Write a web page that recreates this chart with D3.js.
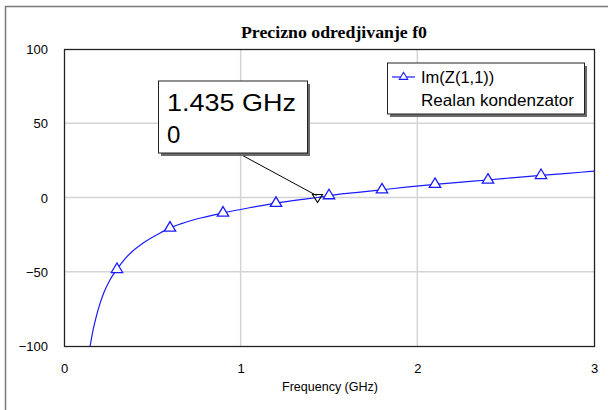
<!DOCTYPE html>
<html><head><meta charset="utf-8">
<script src="https://cdn.jsdelivr.net/npm/d3@7"></script>
<style>html,body{margin:0;padding:0;background:#fff;}svg{display:block;}</style>
</head><body>
<script>
const title = "Precizno odredjivanje f0";
const xLabel = "Frequency (GHz)";
const seriesName = "Im(Z(1,1))";
const seriesSub = "Realan kondenzator";
const xTicks = [0, 1, 2, 3];
const yTicks = [-100, -50, 0, 50, 100];
// curve samples (GHz, Ohm)
const curveFreq = [0.148, 0.165, 0.183, 0.205, 0.226, 0.26, 0.3, 0.34, 0.38, 0.45, 0.55, 0.6, 0.68, 0.75, 0.9, 1.05, 1.2, 1.35, 1.435, 1.5, 1.65, 1.8, 1.95, 2.1, 2.25, 2.4, 2.55, 2.7, 2.85, 3.0];
const curveVal  = [-100, -89, -80, -71, -64, -55.5, -48.4, -42, -37, -30.5, -23.5, -20.5, -17, -14.5, -10.4, -6.9, -3.8, -1.3, 0, 1.3, 3.3, 5.2, 7.1, 8.9, 10.4, 11.8, 13.4, 14.9, 16.3, 17.7];
// marker (triangle) points
const markFreq = [0.3, 0.6, 0.9, 1.2, 1.5, 1.8, 2.1, 2.4, 2.7];
const markVal  = [-48.4, -20.5, -10.4, -3.8, 1.3, 5.2, 8.9, 11.8, 14.9];
// readout marker
const m1Freq = 1.435, m1Val = 0;
const m1Lines = ["1.435 GHz", "0"];

const W = 613, H = 410;
const L = 64, R = 594, T = 49, B = 346;
const svg = d3.select("body").append("svg").attr("width", W).attr("height", H);

const x = d3.scaleLinear().domain([0, 3]).range([L, R]);
const y = d3.scaleLinear().domain([-100, 100]).range([B, T]);

// outer frame (top & left visible)
svg.append("path").attr("d", `M5.5,${H} L5.5,6.5 L608,6.5`).attr("fill", "none").attr("stroke", "#7a7a7a").attr("stroke-width", 1.5);

// title
svg.append("text").attr("x", (L + R) / 2 + 5).attr("y", 38).attr("text-anchor", "middle")
  .attr("font-family", "Liberation Serif, Times New Roman, serif").attr("font-weight", "bold")
  .attr("font-size", 16.5).attr("textLength", 186).attr("lengthAdjust", "spacingAndGlyphs").text(title);

// grid
const grid = svg.append("g").attr("stroke", "#d4d4d4").attr("stroke-width", 1.5);
xTicks.filter(d => d > 0 && d < 3).forEach(d => grid.append("line").attr("x1", x(d)).attr("x2", x(d)).attr("y1", T).attr("y2", B));
yTicks.filter(d => d > -100 && d < 100).forEach(d => grid.append("line").attr("x1", L).attr("x2", R).attr("y1", y(d)).attr("y2", y(d)));

// axes via d3 axis (labels only)
const ax = svg.append("g").attr("transform", `translate(0,${B + 15})`)
  .call(d3.axisBottom(x).tickValues(xTicks).tickFormat(d3.format("d")).tickSize(0));
ax.select(".domain").remove();
ax.selectAll("text").attr("font-family", "Liberation Sans, Arial, sans-serif").attr("font-size", 13).attr("fill", "#000");
const ay = svg.append("g").attr("transform", `translate(${L - 16},0)`)
  .call(d3.axisLeft(y).tickValues(yTicks).tickFormat(d3.format("d")).tickSize(0));
ay.select(".domain").remove();
ay.selectAll("text").attr("font-family", "Liberation Sans, Arial, sans-serif").attr("font-size", 13).attr("fill", "#000").attr("dy", "0.35em").attr("x", 0);

svg.append("text").attr("x", 330).attr("y", 391).attr("text-anchor", "middle")
  .attr("font-family", "Liberation Sans, Arial, sans-serif").attr("font-size", 12.5)
  .attr("textLength", 96).attr("lengthAdjust", "spacingAndGlyphs").text(xLabel);

// clip
svg.append("clipPath").attr("id", "clip").append("rect").attr("x", L).attr("y", T).attr("width", R - L).attr("height", B - T);

const data = curveFreq.map((f, i) => ({ f, v: curveVal[i] }));
svg.append("path").datum(data).attr("clip-path", "url(#clip)")
  .attr("fill", "none").attr("stroke", "#1a1aff").attr("stroke-width", 1.2)
  .attr("d", d3.line().x(d => x(d.f)).y(d => y(d.v)).curve(d3.curveMonotoneX));

// triangle markers
const tri = (cx, cy, s) => `M${cx},${cy - s * 0.667} L${cx + s * 0.6},${cy + s * 0.333} L${cx - s * 0.6},${cy + s * 0.333} Z`;
svg.append("g").selectAll("path").data(markFreq.map((f, i) => ({ f, v: markVal[i] }))).join("path")
  .attr("d", d => tri(x(d.f), y(d.v), 9.5)).attr("fill", "#fff").attr("stroke", "#1a1aff").attr("stroke-width", 1.3);

// plot border
svg.append("rect").attr("x", L + 0.5).attr("y", T + 0.5).attr("width", R - L).attr("height", B - T)
  .attr("fill", "none").attr("stroke", "#222").attr("stroke-width", 1.3);

// readout marker
const mx = x(m1Freq), my = y(m1Val);
svg.append("line").attr("x1", 238).attr("y1", 153).attr("x2", mx - 1).attr("y2", my - 2).attr("stroke", "#000").attr("stroke-width", 1);
svg.append("path").attr("d", `M${mx},${my + 5} L${mx + 5},${my - 3} L${mx - 5},${my - 3} Z`)
  .attr("fill", "none").attr("stroke", "#000").attr("stroke-width", 1.1);

// readout box
svg.append("rect").attr("x", 161).attr("y", 84).attr("width", 149).attr("height", 72).attr("fill", "#6b6b6b");
svg.append("rect").attr("x", 158.5).attr("y", 81).attr("width", 149).attr("height", 72).attr("fill", "#fff").attr("stroke", "#222").attr("stroke-width", 1);
svg.append("text").attr("x", 167).attr("y", 111).attr("font-family", "Liberation Sans, Arial, sans-serif").attr("font-size", 24)
  .attr("textLength", 129).attr("lengthAdjust", "spacingAndGlyphs").text(m1Lines[0]);
svg.append("text").attr("x", 167).attr("y", 143).attr("font-family", "Liberation Sans, Arial, sans-serif").attr("font-size", 24).text(m1Lines[1]);

// legend
svg.append("rect").attr("x", 390).attr("y", 66).attr("width", 197).attr("height", 51).attr("fill", "#6b6b6b");
svg.append("rect").attr("x", 387.5).attr("y", 63).attr("width", 197).attr("height", 51).attr("fill", "#fff").attr("stroke", "#222").attr("stroke-width", 1);
svg.append("line").attr("x1", 392).attr("x2", 415).attr("y1", 77).attr("y2", 77).attr("stroke", "#1a1aff").attr("stroke-width", 1.2);
svg.append("path").attr("d", tri(403.5, 77, 7)).attr("fill", "#fff").attr("stroke", "#1a1aff").attr("stroke-width", 1.1);
svg.append("text").attr("x", 421).attr("y", 83).attr("font-family", "Liberation Sans, Arial, sans-serif").attr("font-size", 16.5).text(seriesName);
svg.append("text").attr("x", 421).attr("y", 106).attr("font-family", "Liberation Sans, Arial, sans-serif").attr("font-size", 16.5)
  .attr("textLength", 153).attr("lengthAdjust", "spacingAndGlyphs").text(seriesSub);
</script>
</body></html>
